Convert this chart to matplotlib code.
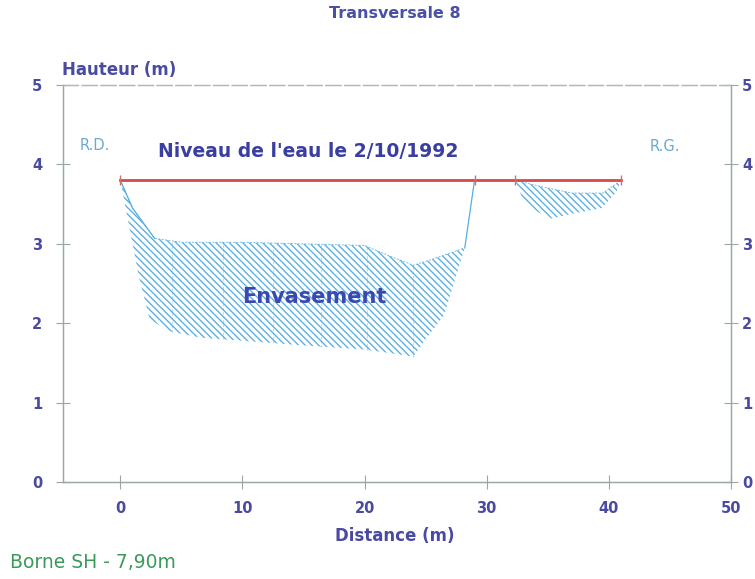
import matplotlib

matplotlib.use("Agg")
import matplotlib.pyplot as plt
import numpy as np

plt.rcParams["font.family"] = ["DejaVu Sans"]
plt.rcParams["hatch.linewidth"] = 0.95

# water level (m) on 2/10/1992
water_x = [0.0, 41.0]
water_y = [3.8, 3.8]
water_marks_x = [0.0, 29.0, 32.3, 41.0]

# main channel: present bed (top of silt) and old bed (bottom of silt)
silt_top_x = [0.0, 1.0, 2.8, 5.0, 10.0, 15.0, 20.0, 22.0, 24.0, 26.0, 28.2]
silt_top_y = [3.8, 3.45, 3.07, 3.02, 3.02, 3.0, 2.98, 2.85, 2.73, 2.83, 2.95]
old_bed_x = [0.0, 1.5, 2.4, 4.0, 6.5, 10.0, 15.0, 20.0, 24.0, 25.0, 26.5, 28.2]
old_bed_y = [3.8, 2.6, 2.05, 1.9, 1.82, 1.78, 1.72, 1.67, 1.58, 1.8, 2.1, 2.95]
bank_x = [28.2, 29.0]
bank_y = [2.95, 3.8]
survey_x = [4.2, 8.4, 12.5, 16.4, 20.2, 24.0]

# small pocket near the left bank (R.G.)
pocket_top_x = [32.3, 34.5, 37.0, 39.5, 41.0]
pocket_top_y = [3.8, 3.72, 3.64, 3.64, 3.8]
pocket_bot_x = [32.3, 33.0, 34.2, 35.3, 37.0, 39.4, 40.6, 41.0]
pocket_bot_y = [3.8, 3.55, 3.4, 3.32, 3.38, 3.45, 3.65, 3.8]

x_ticks = [0, 10, 20, 30, 40, 50]
y_ticks = [0, 1, 2, 3, 4, 5]

HATCH = "#55aee4"
LABEL = "#4a4aa0"
SPINE = "#9aa8a0"

fig = plt.figure(figsize=(7.55, 5.79), dpi=100)
ax = fig.add_axes([0.0834, 0.1675, 0.8848, 0.6855])


def fill_hatched(top_x, top_y, bot_x, bot_y):
    xs = np.concatenate([top_x, bot_x[::-1]])
    ys = np.concatenate([top_y, bot_y[::-1]])
    ax.fill(xs, ys, facecolor="none", edgecolor=HATCH, linewidth=0, hatch="\\\\\\\\\\")
    ax.plot(top_x, top_y, color=HATCH, lw=0.7, ls=(0, (2, 1.5)), alpha=0.8)


fill_hatched(np.array(silt_top_x), np.array(silt_top_y), np.array(old_bed_x), np.array(old_bed_y))
fill_hatched(np.array(pocket_top_x), np.array(pocket_top_y), np.array(pocket_bot_x), np.array(pocket_bot_y))
ax.plot(bank_x, bank_y, color=HATCH, lw=0.9)
ax.plot(silt_top_x[:3], silt_top_y[:3], color=HATCH, lw=0.9)

for sx in survey_x:
    y0 = np.interp(sx, old_bed_x, old_bed_y)
    y1 = np.interp(sx, silt_top_x, silt_top_y)
    ax.plot([sx, sx], [y0, y1], color=HATCH, lw=0.6, ls=(0, (3, 2)), alpha=0.5)

ax.plot(water_x, water_y, color="#d84848", lw=2.0, zorder=4)
ax.plot(water_marks_x, [3.8] * len(water_marks_x), ls="none", marker="|",
        ms=7, mew=1.0, color="#d07070", zorder=5)

ax.set_xlim(-4.7, 50)
ax.set_ylim(0, 5)
ax.set_xticks(x_ticks)
ax.set_yticks(y_ticks)
ax.tick_params(axis="both", direction="inout", length=10, width=0.8, color=SPINE,
               labelcolor=LABEL, labelsize=10.5)
ax.tick_params(axis="y", pad=10)
ax.tick_params(axis="x", pad=9)

# right-hand height scale
ax_r = ax.twinx()
ax_r.set_ylim(ax.get_ylim())
ax_r.set_yticks(y_ticks)
ax_r.tick_params(axis="y", direction="inout", length=10, width=0.8, color=SPINE,
                 labelcolor=LABEL, labelsize=10.5, pad=3)

for lab in ax.get_xticklabels() + ax.get_yticklabels() + ax_r.get_yticklabels():
    lab.set_fontweight("bold")
for a in (ax, ax_r):
    for side, sp in a.spines.items():
        sp.set_color(SPINE)
        sp.set_linewidth(0.9)
    a.spines["top"].set_linestyle((0, (12, 3)))
    a.spines["top"].set_color("#b0b8b4")

ax.text(-2.1, 4.24, "R.D.", color="#6aa8d0", fontsize=10.5, ha="center", va="center")
ax.text(44.6, 4.23, "R.G.", color="#6aa8d0", fontsize=10.5, ha="center", va="center")
ax.text(15.4, 4.16, "Niveau de l'eau le 2/10/1992", color="#3a3ea0", fontsize=13.5,
        fontweight="bold", ha="center", va="center")
ax.text(15.9, 2.33, "Envasement", color="#3a48b0", fontsize=15, fontweight="bold",
        ha="center", va="center")

fig.text(395 / 755, 1 - 14 / 579, "Transversale 8", color="#4a50a8", fontsize=11.5,
         fontweight="bold", ha="center", va="center")
fig.text(62 / 755, 1 - 70 / 579, "Hauteur (m)", color=LABEL, fontsize=12,
         fontweight="bold", ha="left", va="center")
fig.text(395 / 755, 1 - 536 / 579, "Distance (m)", color=LABEL, fontsize=12,
         fontweight="bold", ha="center", va="center")
fig.text(10 / 755, 1 - 562 / 579, "Borne SH - 7,90m", color="#3a9a5a", fontsize=13.5,
         ha="left", va="center")

fig.savefig("out.png", dpi=100)
